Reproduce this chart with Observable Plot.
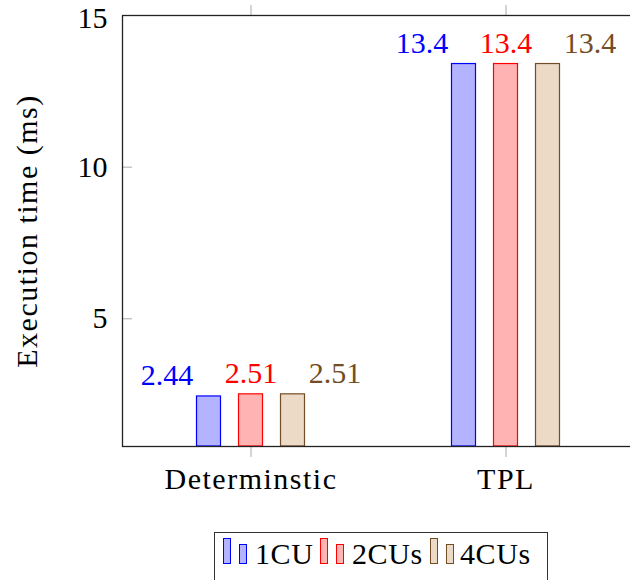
<!DOCTYPE html>
<html>
<head>
<meta charset="utf-8">
<script src="https://cdn.jsdelivr.net/npm/d3@7"></script>
<script src="https://cdn.jsdelivr.net/npm/@observablehq/plot@0.6"></script>
<style>
  html, body { margin: 0; padding: 0; background: #fff; overflow: hidden; }
  #wrap { width: 630px; height: 580px; overflow: hidden; position: relative; }
  #chart { width: 630px; overflow: hidden; }
  #chart svg { max-width: none !important; }
  #legend {
    position: absolute; left: 214px; top: 532px; width: 334px; height: 52px;
    border: 1px solid #333; box-sizing: border-box;
    font-family: "Liberation Serif", serif; font-size: 30px; color: #000;
  }
  .item { position: absolute; top: 0; height: 100%; }
  .sw { position: absolute; width: 8px; box-sizing: border-box; border: 1.5px solid; }
  .lab { position: absolute; top: 6px; line-height: 30px; letter-spacing: 0.6px; white-space: nowrap; }
  svg text { font-family: "Liberation Serif", serif; }
</style>
</head>
<body>
<div id="wrap">
  <div id="chart"></div>
  <div id="legend"></div>
</div>
<script>
const categories = ["Determinstic", "TPL"];
const series = ["1CU", "2CUs", "4CUs"];
const values1CU = [2.44, 13.4];
const values2CUs = [2.51, 13.4];
const values4CUs = [2.51, 13.4];
const valueLabels1CU = ["2.44", "13.4"];
const valueLabels2CUs = ["2.51", "13.4"];
const valueLabels4CUs = ["2.51", "13.4"];
const yTicks = [5, 10, 15];
const yDomain = [0.79, 15];
const strokes = ["#0000ff", "#ff0000", "#734d26"];
const fills = ["#b3b3ff", "#ffb3b3", "#ecd9c6"];

const seriesValues = [values1CU, values2CUs, values4CUs];
const seriesLabels = [valueLabels1CU, valueLabels2CUs, valueLabels4CUs];

const barStep = 42;
const barWidth = 24;
const bandW = 255;

const marks = [];
seriesValues.forEach((vals, i) => {
  const data = categories.map((c, j) => ({cat: c, value: vals[j], label: seriesLabels[i][j]}));
  marks.push(Plot.barY(data, {
    x: "cat", y1: yDomain[0], y2: "value",
    fill: fills[i], stroke: strokes[i], strokeWidth: 1.2,
    dx: (i - 1) * barStep,
    insetLeft: (bandW - barWidth) / 2, insetRight: (bandW - barWidth) / 2
  }));
  marks.push(Plot.text(data, {
    x: "cat", y: "value", text: "label",
    fill: strokes[i], fontSize: 30, textAnchor: "middle",
    dx: (i - 1) * barStep * 2, dy: -21
  }));
});

const topTick = yTicks[yTicks.length - 1];
marks.push(Plot.axisY({ticks: yTicks, tickSize: -10, stroke: "#aaa", text: null, label: null}));
marks.push(Plot.axisY({ticks: yTicks.filter(t => t !== topTick), tickSize: 0, tickPadding: 15, fontSize: 30,
  label: "Execution time (ms)", labelAnchor: "center", labelArrow: "none", labelOffset: 107}));
marks.push(Plot.axisY({ticks: [topTick], tickSize: 0, tickPadding: 15, fontSize: 30, dy: 2.5, label: null}));
marks.push(Plot.axisX({anchor: "bottom", tickSize: 11, stroke: "#aaa", text: null, label: null}));
marks.push(Plot.axisX({anchor: "top", tickSize: 11, stroke: "#aaa", text: null, label: null}));
marks.push(Plot.axisX({anchor: "bottom", tickSize: 0, tickPadding: 21, fontSize: 30, label: null}));
marks.push(Plot.frame({stroke: "#222", strokeWidth: 1.3}));

const chart = Plot.plot({
  width: 640, height: 525,
  marginLeft: 122, marginRight: 7, marginTop: 15, marginBottom: 79,
  style: {fontFamily: "Liberation Serif, serif", fontSize: "30px", color: "#000", background: "#fff", overflow: "visible"},
  x: {type: "band", domain: categories, range: [122.5, 122.5 + 2 * bandW], padding: 0},
  y: {domain: yDomain},
  marks
});
chart.style.maxWidth = "none";
document.getElementById("chart").appendChild(chart);
d3.select(chart).selectAll("[aria-label='y-axis label'] text, [aria-label='x-axis tick label'] text").style("letter-spacing", "1.5px");

// Legend
const legend = document.getElementById("legend");
const itemLefts = [8, 105, 215];
series.forEach((s, i) => {
  const it = document.createElement("div");
  it.className = "item";
  it.style.left = itemLefts[i] + "px";
  const tall = document.createElement("div");
  tall.className = "sw";
  tall.style.cssText = `left:0px; top:5px; height:26px; background:${fills[i]}; border-color:${strokes[i]};`;
  const short = document.createElement("div");
  short.className = "sw";
  short.style.cssText = `left:16px; top:11px; height:20px; background:${fills[i]}; border-color:${strokes[i]};`;
  const lab = document.createElement("div");
  lab.className = "lab";
  lab.style.left = (i === 2 ? 30 : 32) + "px";
  lab.textContent = s;
  it.appendChild(tall); it.appendChild(short); it.appendChild(lab);
  legend.appendChild(it);
});
</script>
</body>
</html>
